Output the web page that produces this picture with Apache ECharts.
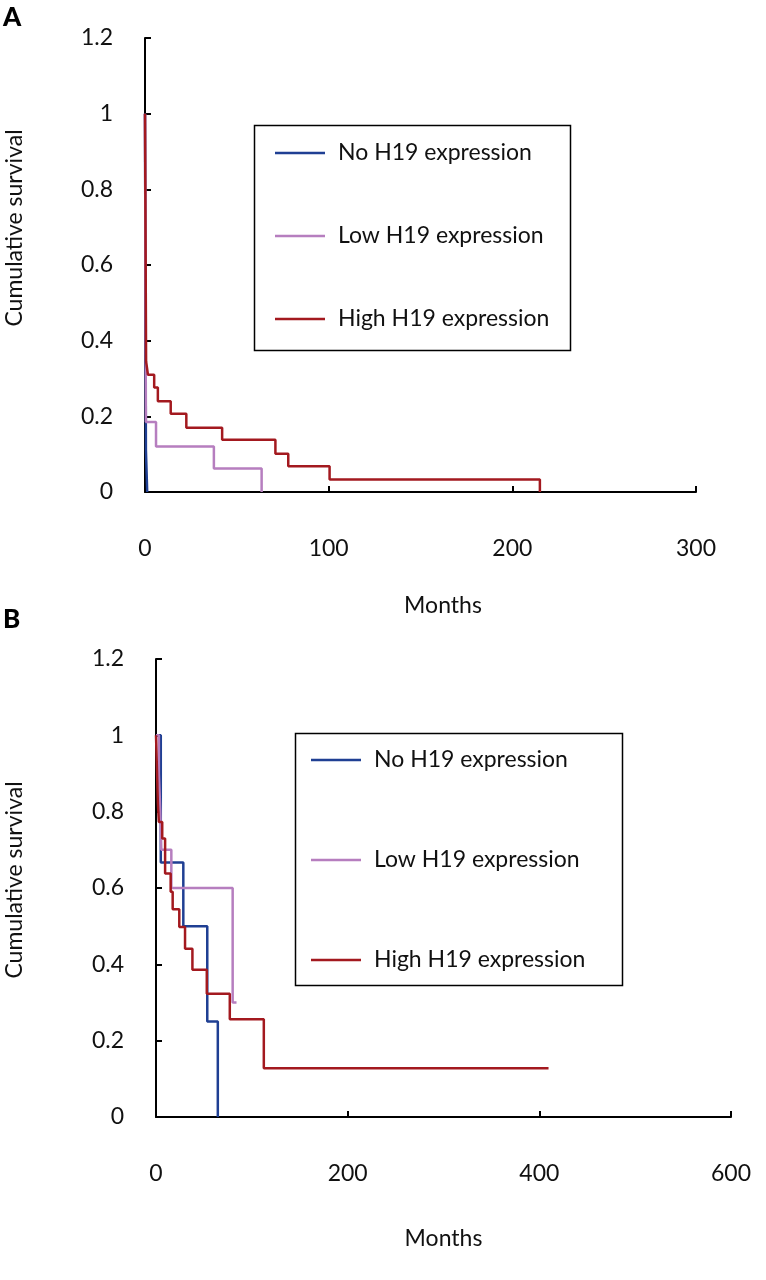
<!DOCTYPE html>
<html>
<head>
<meta charset="utf-8">
<title>H19 survival</title>
<script src="https://cdn.jsdelivr.net/npm/echarts@6/dist/echarts.min.js"></script>
<style>
  html, body { margin: 0; padding: 0; background: #fff; }
  #chart { width: 766px; height: 1280px; }
</style>
</head>
<body>
<div id="chart"></div>
<script>
// legend names
var groupNames = ['No H19 expression', 'Low H19 expression', 'High H19 expression']

// panel A - event times (months) and survival after each step
var noTimesA = [0, 0.5, 1.2]
var noSurvA = [1, 0.111, 0]
var lowTimesA = [0, 0.5, 6, 37.5, 63.5]
var lowSurvA = [1, 0.185, 0.12, 0.062, 0]
var highTimesA = [0, 0.6, 1.6, 5, 7, 14, 22.5, 42, 71, 78, 100.5, 215]
var highSurvA = [1, 0.345, 0.31, 0.276, 0.24, 0.207, 0.17, 0.138, 0.101, 0.068, 0.033, 0]

// panel B
var noTimesB = [0, 5, 28.5, 53.5, 64.5]
var noSurvB = [1, 0.667, 0.5, 0.25, 0]
var lowTimesB = [0, 3, 4.5, 5.5, 16, 80, 84]
var lowSurvB = [1, 0.9, 0.8, 0.7, 0.6, 0.3, 0.3]
var highTimesB = [0, 2, 3, 6.5, 9.5, 15.3, 17.4, 24.3, 30.3, 38, 53, 77, 112.5, 409.6]
var highSurvB = [1, 0.82, 0.773, 0.73, 0.638, 0.59, 0.544, 0.498, 0.441, 0.386, 0.323, 0.256, 0.128, 0.128]

// axis ticks
var yTicks = [0, 0.2, 0.4, 0.6, 0.8, 1, 1.2]
var xTicksA = [0, 100, 200, 300]
var xTicksB = [0, 200, 400, 600]

var colors = ['#1f3f93', '#b67ebf', '#a3191f']
var font = 'Lato, "DejaVu Sans", sans-serif'

function pairs(times, surv) {
  return times.map(function(t, i) { return [t, surv[i]] })
}

function xAxisOpt(gridIndex, ticks, gap, shift) {
  return {
    gridIndex: gridIndex,
    type: 'value',
    min: ticks[0],
    max: ticks[ticks.length - 1],
    interval: ticks[1] - ticks[0],
    name: 'Months',
    nameLocation: 'middle',
    nameGap: gap,
    nameTextStyle: { color: '#111', fontSize: 23, fontFamily: font, padding: [0, 0, 0, shift] },
    axisLine: { show: true, lineStyle: { color: '#000', width: 2 }},
    axisTick: { show: true, inside: true, length: 6, lineStyle: { color: '#000', width: 2 }},
    axisLabel: { color: '#111', fontSize: 23, fontFamily: font, margin: 45 },
    splitLine: { show: false }
  }
}

function yAxisOpt(gridIndex) {
  return {
    gridIndex: gridIndex,
    type: 'value',
    min: yTicks[0],
    max: yTicks[yTicks.length - 1],
    interval: 0.2,
    axisLine: { show: true, lineStyle: { color: '#000', width: 2 }},
    axisTick: { show: true, inside: true, length: 6, lineStyle: { color: '#000', width: 2 }},
    axisLabel: { color: '#111', fontSize: 23, fontFamily: font, margin: 32 },
    splitLine: { show: false }
  }
}

function kmSeries(name, idx, data, color) {
  return {
    name: name,
    type: 'line',
    step: 'end',
    xAxisIndex: idx,
    yAxisIndex: idx,
    symbol: 'none',
    data: data,
    color: color,
    lineStyle: { color: color, width: 2.5 },
    animation: false
  }
}

function legendOpt(left, top, gap) {
  return {
    data: groupNames,
    orient: 'vertical',
    left: left,
    top: top,
    padding: 0,
    itemGap: gap,
    icon: 'rect',
    itemWidth: 50,
    itemHeight: 2.5,
    selectedMode: false,
    textStyle: { color: '#111', fontSize: 23, fontFamily: font, lineHeight: 24, padding: [0, 0, 0, 8] }
  }
}

var myChart = echarts.init(document.getElementById('chart'))

var option = {
  animation: false,
  backgroundColor: '#fff',
  grid: [
    { left: 145, top: 38, width: 551, height: 454 },
    { left: 156, top: 659, width: 575, height: 458 }
  ],
  xAxis: [xAxisOpt(0, xTicksA, 102, 45), xAxisOpt(1, xTicksB, 110, 0)],
  yAxis: [yAxisOpt(0), yAxisOpt(1)],
  legend: [legendOpt(275, 141, 59), legendOpt(311, 748, 76)],
  series: [
    kmSeries(groupNames[0], 0, pairs(noTimesA, noSurvA), colors[0]),
    kmSeries(groupNames[1], 0, pairs(lowTimesA, lowSurvA), colors[1]),
    kmSeries(groupNames[2], 0, pairs(highTimesA, highSurvA), colors[2]),
    kmSeries(groupNames[0], 1, pairs(noTimesB, noSurvB), colors[0]),
    kmSeries(groupNames[1], 1, pairs(lowTimesB, lowSurvB), colors[1]),
    kmSeries(groupNames[2], 1, pairs(highTimesB, highSurvB), colors[2])
  ],
  graphic: [
    // legend boxes
    { type: 'rect', left: 252, top: 123, shape: { width: 316, height: 225 }, style: { fill: 'none', stroke: '#000', lineWidth: 1.5 }, z: 1 },
    { type: 'rect', left: 293, top: 731, shape: { width: 327, height: 252 }, style: { fill: 'none', stroke: '#000', lineWidth: 1.5 }, z: 1 },
    // panel letters
    { type: 'text', left: 3, top: 5, style: { text: 'A', fontSize: 26, fontWeight: 900, fontFamily: font, fill: '#000' }},
    { type: 'text', left: 3, top: 607, style: { text: 'B', fontSize: 26, fontWeight: 900, fontFamily: font, fill: '#000' }},
    // y axis titles
    { type: 'text', x: 15, y: 228, rotation: Math.PI / 2, style: { text: 'Cumulative survival', fontSize: 23, fontFamily: font, fill: '#111', align: 'center', verticalAlign: 'middle' }},
    { type: 'text', x: 15, y: 880, rotation: Math.PI / 2, style: { text: 'Cumulative survival', fontSize: 23, fontFamily: font, fill: '#111', align: 'center', verticalAlign: 'middle' }}
  ]
}

myChart.setOption(option)
</script>
</body>
</html>
